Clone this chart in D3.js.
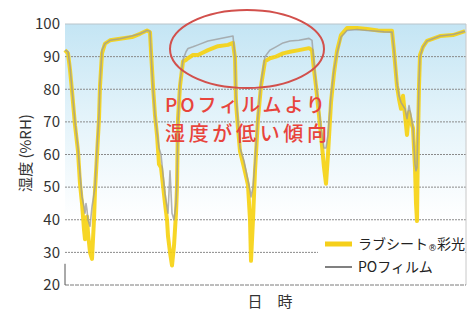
<!DOCTYPE html>
<html><head><meta charset="utf-8">
<script src="https://cdn.jsdelivr.net/npm/d3@7"></script>
<style>html,body{margin:0;padding:0;background:#fff;}svg{display:block;font-family:"Noto Sans CJK JP","Noto Sans",sans-serif;}</style>
</head><body>
<svg id="c" width="473" height="311"></svg>
<script>
// time steps (unlabelled x axis)
const timeSteps = [0,3,5,7,10,13,15,17,19,20,21,22,23,25,27,29,30,32,34,35,37,40,45,55,67,75,82,85,86,88,90,92,94,96,98,100,102,103,105,107,109,111,112,113,115,118,121,123,128,133,143,153,163,168,170,171,173,175,179,183,185,186,188,190,193,196,200,205,211,218,225,234,244,247,249,251,254,256,259,261,263,266,269,272,276,282,292,302,313,319,327,329,332,334,336,338,340,342,344,346,348,350,351,352,353,354,355,358,362,375,388,400];
const rabuSheet = [92,91,86,79.5,69,61,51,45,37,34,38,41,36,30,28,40,49,60,71,81,91,94,95,95.5,96,97,98,97.5,91.7,81,72,66,57,56,50.6,45,40,35,30,26,32,42,50,71,81,88.5,89,89.5,90.5,90.5,92,93.2,93.6,94.2,89.6,76,68,61,56,50.6,40,27.4,40,55,71,81,88.6,89.5,90,91,91.5,92,92.6,92,86,81,72,66,56,51,60,76,85,91.7,96.6,98.8,98.8,98.5,98,97.9,97.9,91.7,81,77,74,78,72,66,73,70,68,56,45,39.6,65,81,90.5,93,94.8,96.3,96.6,97.8];
const poFilm = [92,91.5,87,80,70,62,54,47,44,42,45,43,40,38,44,48,50,62,72,82,92,94,95,95.5,96.3,97,98,97.8,91.5,80,72,67,62,60,54,48,44,42,55,42,40,45,52,70,82,89,91.5,92.5,93,93.6,94.8,95.4,96,96.3,90,78,70,62,58,52,49,47,50,58,72,82,90,92,93,94.2,94.8,95,95.6,95,88,82,74,68,62,62,66,78,86,91,96,98,98.3,98,97.8,97.6,97.5,92,82,78,76,75,74,71,75,72,68,57,55,56,70,82,90,93,94.8,96.3,96.8,97.8];
const yTicks = [20,30,40,50,60,70,80,90,100];
const seriesNames = ["ラブシート", "POフィルム"];
const yTitle = "湿度 (%RH)";
const xTitle = "日　時";
const noteLines = ["POフィルムより", "湿度が低い傾向"];

const svg = d3.select("#c");
const L = 65, R = 466, T = 24, B = 285;
const x = d3.scaleLinear().domain([0, 401]).range([L, R]);
const y = d3.scaleLinear().domain([20, 100]).range([B, T]);

const defs = svg.append("defs");
const g = defs.append("linearGradient").attr("id","bg").attr("x1",0).attr("y1",0).attr("x2",0).attr("y2",1);
g.append("stop").attr("offset","0%").attr("stop-color","#c4e5f4");
g.append("stop").attr("offset","35%").attr("stop-color","#e3f3fa");
g.append("stop").attr("offset","75%").attr("stop-color","#ffffff");
svg.append("rect").attr("x",L).attr("y",T).attr("width",R-L).attr("height",B-T).attr("fill","url(#bg)");

// gridlines
svg.append("g").selectAll("line").data(yTicks.filter(d=>d>20 && d<100)).join("line")
  .attr("x1",L).attr("x2",R).attr("y1",d=>y(d)).attr("y2",d=>y(d))
  .attr("stroke","#8a8a8a").attr("stroke-width",1).attr("stroke-dasharray","2,1");
// frame
svg.append("line").attr("x1",L).attr("x2",R).attr("y1",y(100)).attr("y2",y(100)).attr("stroke","#b8c4ca").attr("stroke-width",1);
svg.append("line").attr("x1",R).attr("x2",R).attr("y1",y(100)).attr("y2",y(20)).attr("stroke","#c8c8c8").attr("stroke-width",1);
svg.append("line").attr("x1",L).attr("x2",R).attr("y1",y(20)).attr("y2",y(20)).attr("stroke","#7a7a7a").attr("stroke-width",1).attr("stroke-dasharray","4,1");
svg.append("line").attr("x1",L).attr("x2",L).attr("y1",y(26.5)).attr("y2",y(20)).attr("stroke","#555").attr("stroke-width",1);

// y axis labels
const yAxis = d3.axisLeft(y).tickValues(yTicks).tickSize(0).tickPadding(5);
const ya = svg.append("g").attr("transform",`translate(${L},0)`).call(yAxis);
ya.select(".domain").remove();
ya.selectAll("text").attr("font-size",15).attr("fill","#333").attr("font-family","'Noto Sans CJK JP',sans-serif");

svg.append("text").attr("transform",`translate(31,153) rotate(-90)`).attr("text-anchor","middle")
  .attr("font-size",15).attr("fill","#333").text(yTitle);
svg.append("text").attr("x",270).attr("y",307).attr("text-anchor","middle")
  .attr("font-size",15).attr("fill","#333").text(xTitle);

// lines
const pts = (vals)=> timeSteps.map((t,i)=>[t, vals[i]]);
const line = d3.line().x(d=>x(d[0])).y(d=>y(d[1])).curve(d3.curveLinear);
svg.append("path").attr("d",line(pts(rabuSheet))).attr("fill","none").attr("stroke","#f6d20e").attr("stroke-width",4).attr("stroke-linejoin","round").attr("stroke-opacity",0.9);
svg.append("path").attr("d",line(pts(poFilm))).attr("fill","none").attr("stroke","#9a9a9a").attr("stroke-width",1.6).attr("stroke-linejoin","round").attr("stroke-opacity",0.75);

// legend
svg.append("rect").attr("x",318).attr("y",229).attr("width",147).attr("height",55).attr("fill","#fff");
svg.append("line").attr("x1",325).attr("x2",352).attr("y1",244).attr("y2",244).attr("stroke","#f5cf1a").attr("stroke-width",5);
svg.append("line").attr("x1",325).attr("x2",352).attr("y1",267).attr("y2",267).attr("stroke","#808080").attr("stroke-width",2);
const lt = svg.append("text").attr("x",358).attr("y",249).attr("font-size",14).attr("fill","#222");
lt.append("tspan").text(seriesNames[0]);
lt.append("tspan").attr("font-size",9).attr("font-family","'DejaVu Sans',sans-serif").attr("dy",2).text("®");
lt.append("tspan").attr("dy",-2).text("彩光");
svg.append("text").attr("x",358).attr("y",272).attr("font-size",14).attr("fill","#222").text(seriesNames[1]);

// annotation
svg.append("ellipse").attr("cx",247).attr("cy",49).attr("rx",77).attr("ry",39).attr("fill","none").attr("stroke","#d2504c").attr("stroke-width",2);
svg.append("text").attr("x",165).attr("y",112).attr("font-size",19).attr("font-weight",500).attr("fill","#e8443c")
  .attr("textLength",160).attr("lengthAdjust","spacing").text(noteLines[0]);
svg.append("text").attr("x",165).attr("y",141).attr("font-size",20).attr("font-weight",500).attr("fill","#e8443c")
  .attr("textLength",162).attr("lengthAdjust","spacing").text(noteLines[1]);
</script>
</body></html>
